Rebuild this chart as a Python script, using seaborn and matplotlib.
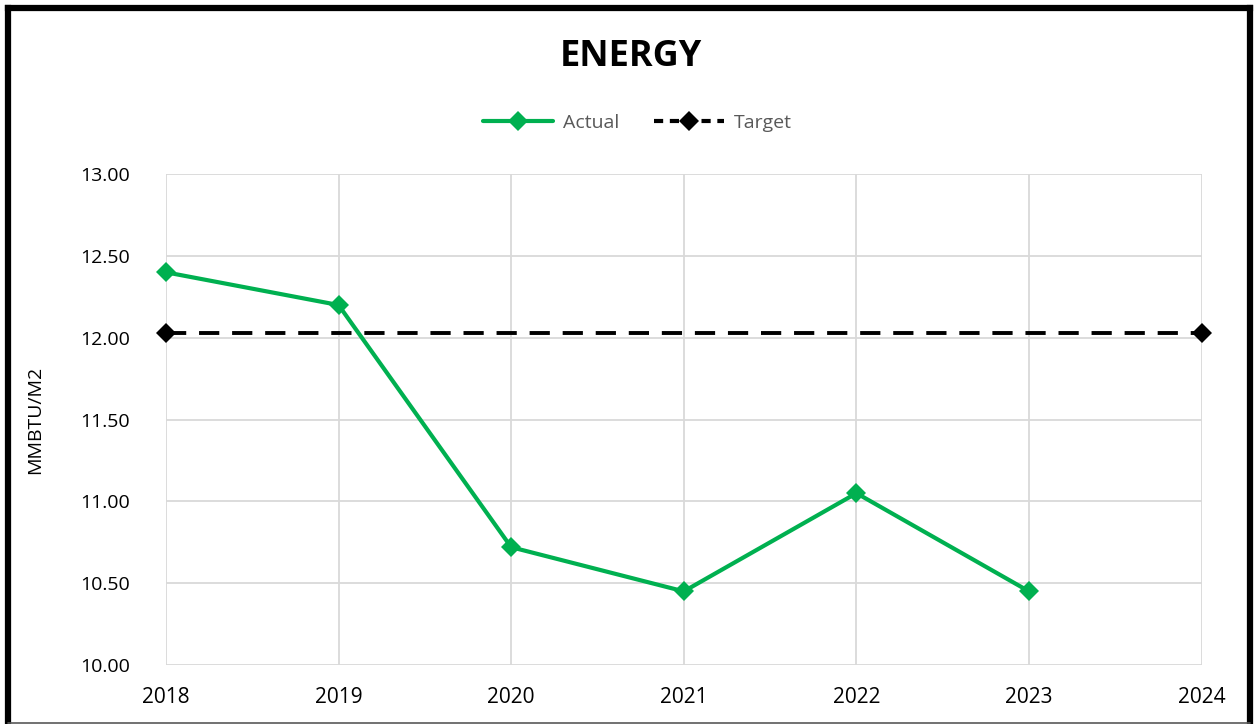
import pandas as pd
import matplotlib.pyplot as plt
import seaborn as sns
from matplotlib.lines import Line2D

years = [2018, 2019, 2020, 2021, 2022, 2023, 2024]
actual = [12.40, 12.20, 10.72, 10.45, 11.05, 10.45, None]
target = [12.03, 12.03, 12.03, 12.03, 12.03, 12.03, 12.03]
y_ticks = [10.0, 10.5, 11.0, 11.5, 12.0, 12.5, 13.0]

green = '#00B050'

sns.set_style('white')
plt.rcParams['font.family'] = ['Open Sans', 'DejaVu Sans']
plt.rcParams['text.color'] = 'black'
plt.rcParams['xtick.color'] = 'black'
plt.rcParams['ytick.color'] = 'black'
plt.rcParams['axes.labelcolor'] = 'black'

df_actual = pd.DataFrame({'Year': years, 'Value': actual}).dropna()
df_target = pd.DataFrame({'Year': years, 'Value': target})

fig = plt.figure(figsize=(12.57, 7.24), dpi=100)
ax = fig.add_axes([0.132, 0.0815, 0.824, 0.678])

sns.lineplot(data=df_target, x='Year', y='Value', ax=ax, color='black',
             linewidth=2.8, marker='D', markersize=10, markevery=[0, len(years) - 1],
             markeredgewidth=0, dashes=False, zorder=3)
ax.lines[-1].set_dashes((5.2, 3.3))
sns.lineplot(data=df_actual, x='Year', y='Value', ax=ax, color=green,
             linewidth=3, marker='D', markersize=10, markeredgewidth=0, zorder=4)
for ln in ax.lines:
    ln.set_clip_on(False)

ax.set_xlim(years[0], years[-1])
ax.set_ylim(10, 13)
ax.set_xticks(years)
ax.set_xticklabels([str(y) for y in years], fontsize=15)
ax.set_yticks(y_ticks)
ax.set_yticklabels([f'{v:.2f}' for v in y_ticks], fontsize=14)
ax.grid(True, color='#d9d9d9', linewidth=1.3)
for s in ax.spines.values():
    s.set_visible(False)
ax.tick_params(axis='y', length=0, pad=26)
ax.tick_params(axis='x', length=0, pad=16)
ax.set_xlabel('')
ax.set_ylabel('MMBTU/M2', fontsize=14)
ax.yaxis.set_label_coords(-0.118, 0.5)

fig.text(0.502, 0.921, 'ENERGY', ha='center', va='center', fontsize=26,
         fontweight='bold', color='black')

handles = [
    Line2D([], [], color=green, linewidth=3, marker='D', markersize=10, markeredgewidth=0),
    Line2D([], [], color='black', linewidth=3, marker='D', markersize=10,
           markeredgewidth=0, linestyle=(0, (2.2, 1.6))),
]
fig.legend(handles, ['Actual', 'Target'], loc='center', bbox_to_anchor=(0.507, 0.830),
           ncol=2, frameon=False, fontsize=14, handlelength=3.6, handletextpad=0.5,
           columnspacing=1.8, labelcolor='#595959')

# outer chart frame
fig.add_artist(Line2D([0.0064, 0.0064], [0.0, 0.989], transform=fig.transFigure,
                      color='black', linewidth=4.5, solid_capstyle='projecting'))
fig.add_artist(Line2D([0.0064, 0.9944], [0.989, 0.989], transform=fig.transFigure,
                      color='black', linewidth=4.5, solid_capstyle='projecting'))
fig.add_artist(Line2D([0.9944, 0.9944], [0.0, 0.989], transform=fig.transFigure,
                      color='black', linewidth=4.5, solid_capstyle='projecting'))
fig.add_artist(Line2D([0.0064, 0.9944], [0.0015, 0.0015], transform=fig.transFigure,
                      color='#595959', linewidth=1.2))

fig.savefig('out.png', dpi=100)
